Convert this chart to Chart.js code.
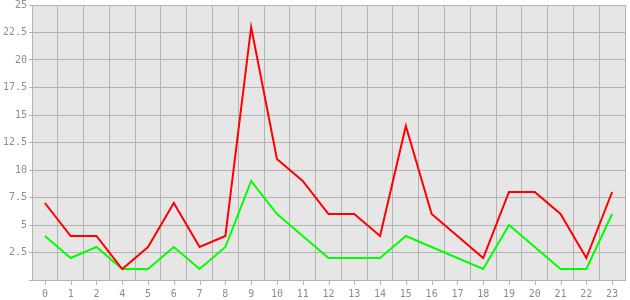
<!DOCTYPE html>
<html>
<head>
<meta charset="utf-8">
<script src="https://cdn.jsdelivr.net/npm/chart.js@4"></script>
<style>
  html, body { margin: 0; padding: 0; background: #fff; }
  #wrap { width: 630px; height: 300px; }
</style>
</head>
<body>
<div id="wrap"><canvas id="chart" width="630" height="300"></canvas></div>
<script>
// ==================== DATA ====================
const hours = ['0', '1', '2', '4', '5', '6', '7', '8', '9', '10', '11', '12',
  '13', '14', '15', '16', '17', '18', '19', '20', '21', '22', '23'];
const redValues = [7, 4, 4, 1, 3, 7, 3, 4, 23, 11, 9, 6, 6, 4, 14, 6, 4, 2, 8, 8, 6, 2, 8];
const greenValues = [4, 2, 3, 1, 1, 3, 1, 3, 9, 6, 4, 2, 2, 2, 4, 3, 2, 1, 5, 3, 1, 1, 6];
const yTicks = [0, 2.5, 5, 7.5, 10, 12.5, 15, 17.5, 20, 22.5, 25];

const gridColor = '#b4b4b4';
const labelColor = '#8c8c8c';
const font = { family: 'DejaVu Sans Mono', size: 10 };

// grey plot background + small x tick marks under category centres
const plotStyle = {
  id: 'plotStyle',
  beforeDraw(chart) {
    const { ctx, chartArea: a } = chart;
    ctx.save();
    ctx.fillStyle = '#e6e6e6';
    ctx.fillRect(a.left, a.top, a.right - a.left, a.bottom - a.top);
    ctx.restore();
  },
  afterDraw(chart) {
    const { ctx, chartArea: a } = chart;
    const x = chart.scales.x;
    ctx.save();
    ctx.strokeStyle = gridColor;
    ctx.lineWidth = 1;
    x.ticks.forEach((t, i) => {
      const px = Math.round(x.getPixelForTick(i)) + 0.5;
      ctx.beginPath();
      ctx.moveTo(px, a.bottom);
      ctx.lineTo(px, a.bottom + 5);
      ctx.stroke();
    });
    ctx.restore();
  }
};

new Chart(document.getElementById('chart'), {
  type: 'line',
  data: {
    labels: hours,
    datasets: [
      {
        data: redValues,
        borderColor: '#ff0000',
        borderWidth: 2,
        pointRadius: 0,
        tension: 0,
        fill: false
      },
      {
        data: greenValues,
        borderColor: '#00ff00',
        borderWidth: 2,
        pointRadius: 0,
        tension: 0,
        fill: false
      }
    ]
  },
  options: {
    responsive: false,
    animation: false,
    layout: { padding: { top: 5, right: 5, left: 0, bottom: 0 } },
    plugins: {
      legend: { display: false },
      tooltip: { enabled: false }
    },
    scales: {
      x: {
        offset: true,
        grid: { offset: true, color: gridColor, drawTicks: false },
        border: { color: gridColor },
        ticks: { color: labelColor, font: font, padding: 8, maxRotation: 0, autoSkip: false },
        afterFit(scale) { scale.height = 20; }
      },
      y: {
        min: 0,
        max: 25,
        afterBuildTicks(scale) { scale.ticks = yTicks.map(v => ({ value: v })); },
        grid: { color: gridColor, tickLength: 3 },
        border: { color: gridColor },
        ticks: {
          color: labelColor,
          font: font,
          padding: 2,
          callback: v => (v === 0 ? '' : String(v))
        },
        afterFit(scale) {
          scale.width = 32;
          scale.paddingTop = 0;
          scale.paddingBottom = 0;
        }
      }
    }
  },
  plugins: [plotStyle]
});
</script>
</body>
</html>
